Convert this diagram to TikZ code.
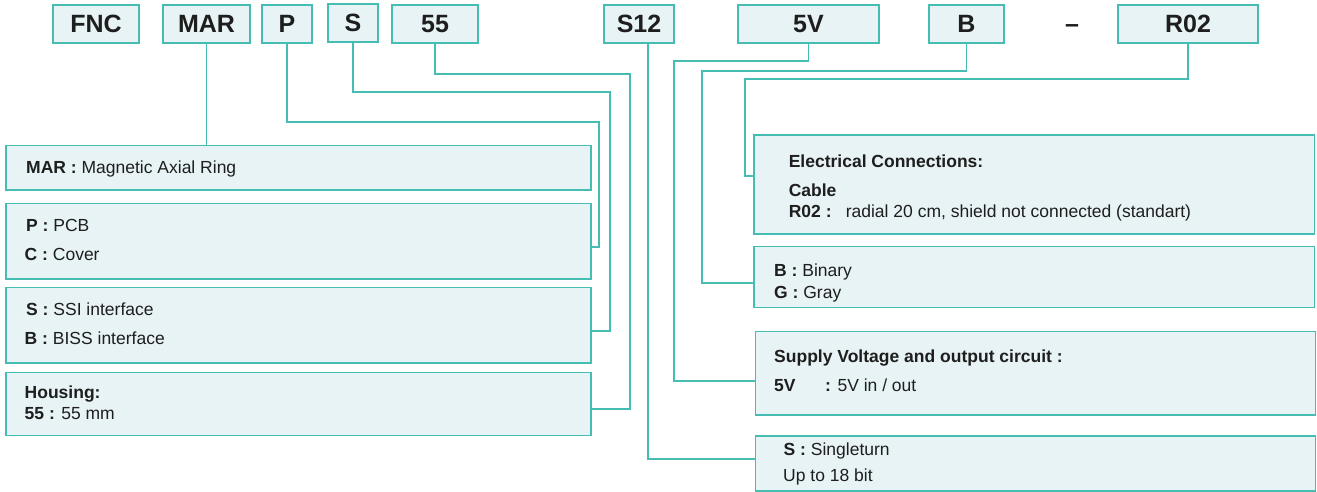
\documentclass[tikz,border=0pt]{standalone}
\usepackage{fontspec}
\setmainfont{Liberation Sans}
\definecolor{teal1}{HTML}{45BDB2}
\definecolor{fillb}{HTML}{E7F3F5}
\definecolor{ink}{HTML}{1E1E1E}
\begin{document}
\begin{tikzpicture}[x=1pt,y=-1pt,
  tbox/.style={draw=teal1,fill=fillb,line width=1.6pt,minimum height=38pt,inner sep=0pt,
     font=\fontsize{25}{30}\selectfont\bfseries,text=ink},
  dbox/.style={draw=teal1,fill=fillb,line width=1.6pt,inner sep=0pt,anchor=north west},
  txt/.style={anchor=base west,inner sep=0pt,font=\fontsize{17.5}{21}\selectfont,text=ink},
  conn/.style={draw=teal1,line width=1.5pt}]
\useasboundingbox (0,0) rectangle (1317,491);
% top code boxes
\node[tbox,minimum width=86pt] (tFNC) at (96,24) {FNC};
\node[tbox,minimum width=87pt] (tMAR) at (206.5,24) {MAR};
\node[tbox,minimum width=50pt] (tP) at (287,24) {P};
\node[tbox,minimum width=50pt] (tS) at (353,23) {S};
\node[tbox,minimum width=86pt] (t55) at (435,24) {55};
\node[tbox,minimum width=70pt] (tS12) at (639,24) {S12};
\node[tbox,minimum width=141pt] (t5V) at (808.5,24) {5V};
\node[tbox,minimum width=75pt] (tB) at (966.5,24) {B};
\node[inner sep=0pt,anchor=base,font=\fontsize{25}{30}\selectfont\bfseries,text=ink] (tdash) at (1072,32) {–};
\node[tbox,minimum width=140pt] (tR02) at (1188,24) {R02};
% left description boxes
\node[dbox,minimum width=585pt,minimum height=44.5pt] (dMAR) at (5,144.7) {};
\node[dbox,minimum width=585pt,minimum height=75.6pt] (dP) at (5,202.7) {};
\node[dbox,minimum width=585pt,minimum height=75.6pt] (dS) at (5,286.7) {};
\node[dbox,minimum width=585pt,minimum height=63pt] (d55) at (5,371.7) {};
% right description boxes
\node[dbox,minimum width=560.6pt,minimum height=99pt] (dR02) at (753,134) {};
\node[dbox,minimum width=560.6pt,minimum height=61pt] (dB) at (753,245.7) {};
\node[dbox,minimum width=560pt,minimum height=83.3pt] (d5V) at (754.5,330.7) {};
\node[dbox,minimum width=560pt,minimum height=55.2pt] (dS12) at (754.5,435) {};
% texts left
\node[txt] (xMAR) at (26,173) {\textbf{MAR :} Magnetic Axial Ring};
\node[txt] (xP1) at (26,231) {\textbf{P :} PCB};
\node[txt] (xP2) at (24.5,260) {\textbf{C :} Cover};
\node[txt] (xS1) at (26,315) {\textbf{S :} SSI interface};
\node[txt] (xS2) at (24.5,344) {\textbf{B :} BISS interface};
\node[txt] (x551) at (24.5,398) {\textbf{Housing:}};
\node[txt] (x552) at (24.5,419) {\textbf{55 :} 55 mm};
% texts right
\node[txt] (xR1) at (788.6,167.3) {\textbf{Electrical Connections:}};
\node[txt] (xR2) at (788.6,196) {\textbf{Cable}};
\node[txt] (xR3) at (788.6,217.7) {\textbf{R02 :}};
\node[txt] (xR4) at (845.6,217.7) {radial 20 cm, shield not connected (standart)};
\node[txt] (xB1) at (774,276.7) {\textbf{B :} Binary};
\node[txt] (xB2) at (774,298.3) {\textbf{G :} Gray};
\node[txt] (xV1) at (774,362.3) {\textbf{Supply Voltage and output circuit :}};
\node[txt] (xV2) at (774,391.7) {\textbf{5V}};
\node[txt] (xV3) at (825,391.7) {\textbf{:} 5V in / out};
\node[txt] (xS121) at (783.5,455.7) {\textbf{S :} Singleturn};
\node[txt] (xS122) at (783,481.7) {Up to 18 bit};
% connectors
\draw[conn] (tMAR.south) -- (dMAR.north -| tMAR.south);
\draw[conn] (tP.south) -- (287,122) -- (599,122) -- (599,247) -- (dP.east |- 0,247);
\draw[conn] (tS.south) -- (353,92) -- (610,92) -- (610,331) -- (dS.east |- 0,331);
\draw[conn] (t55.south) -- (435,74) -- (630,74) -- (630,409) -- (d55.east |- 0,409);
\draw[conn] (tS12.south -| 648,0) -- (648,459) -- (dS12.west |- 0,459);
\draw[conn] (t5V.south) -- (808.5,61) -- (674,61) -- (674,381) -- (d5V.west |- 0,381);
\draw[conn] (tB.south) -- (966.5,71) -- (702,71) -- (702,283) -- (dB.west |- 0,283);
\draw[conn] (tR02.south) -- (1188,79) -- (745,79) -- (745,176) -- (dR02.west |- 0,176);
\end{tikzpicture}
\end{document}
